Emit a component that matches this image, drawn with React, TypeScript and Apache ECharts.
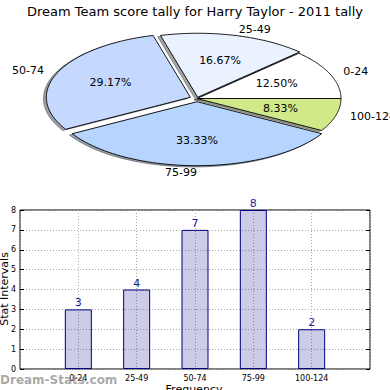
import React, { useEffect, useRef } from "react";
import * as echarts from "echarts";

const categories = ["0-24", "25-49", "50-74", "75-99", "100-124"];
const frequencies = [3, 4, 7, 8, 2];
const sliceColors = ["#ffffff", "#eaf2ff", "#c5d9ff", "#b5d5ff", "#d0ea8a"];
const explode = [0, 0.02, 0.05, 0.05, 0];
const yTickMax = 8;

const FONT = "DejaVu Sans";
const PIE = { cx: 197, cy: 98.5, rx: 144, ry: 64 };

const total = frequencies.reduce((a, b) => a + b, 0);
const cumulative: number[] = [];
frequencies.reduce((acc, v, i) => {
  cumulative[i] = acc;
  return acc + v;
}, 0);

function hexToRgb(h: string) {
  const n = parseInt(h.slice(1), 16);
  return [(n >> 16) & 255, (n >> 8) & 255, n & 255];
}

function sliceGeom(i: number, v: number) {
  const a0 = (cumulative[i] / total) * 360;
  const a1 = a0 + (v / total) * 360;
  const mid = ((a0 + a1) / 2) * Math.PI / 180;
  const ox = PIE.cx + explode[i] * PIE.rx * Math.cos(mid);
  const oy = PIE.cy - explode[i] * PIE.ry * Math.sin(mid);
  const pts: number[][] = [[ox, oy]];
  const n = 60;
  for (let k = 0; k <= n; k++) {
    const t = ((a0 + ((a1 - a0) * k) / n) * Math.PI) / 180;
    pts.push([ox + PIE.rx * Math.cos(t), oy - PIE.ry * Math.sin(t)]);
  }
  return { pts, ox, oy, mid };
}

export default function App() {
  const ref = useRef<HTMLDivElement>(null);
  useEffect(() => {
    if (!ref.current) return;
    const chart = echarts.init(ref.current, undefined, { renderer: "svg" });
    const pieData = frequencies.map((v, i) => [i, v]);
    const option: any = {
      animation: false,
      backgroundColor: "#ffffff",
      title: {
        text: "Dream Team score tally for Harry Taylor - 2011 tally",
        left: "center",
        top: 0,
        textStyle: { fontFamily: FONT, fontSize: 13, fontWeight: "normal", color: "#000" },
      },
      grid: {
        left: 20,
        right: 20,
        top: 210,
        bottom: 21,
        containLabel: false,
        outerBoundsMode: "none",
        show: true,
        borderColor: "#000",
        borderWidth: 1,
        backgroundColor: "transparent",
      },
      xAxis: [
        {
          type: "value",
          min: 0,
          max: categories.length + 1,
          interval: 1,
          axisLine: { show: false },
          axisTick: { show: false },
          axisLabel: {
            fontFamily: FONT,
            fontSize: 8,
            color: "#000",
            margin: 5,
            formatter: (v: number) => categories[v - 1] ?? "",
          },
          splitLine: { show: true, lineStyle: { type: [1, 2], color: "#a8a8a8", width: 1 } },
        },
      ],
      yAxis: [
        {
          type: "value",
          min: 0,
          max: yTickMax,
          interval: 1,
          axisLine: { show: false },
          axisTick: { show: true, inside: true, length: 4, lineStyle: { color: "#000" } },
          axisLabel: { fontFamily: FONT, fontSize: 8, color: "#000", margin: 4 },
          splitLine: { show: true, lineStyle: { type: [1, 2], color: "#a8a8a8", width: 1 } },
        },
        {
          type: "value",
          min: 0,
          max: yTickMax,
          interval: 1,
          position: "right",
          axisLine: { show: false },
          axisTick: { show: true, inside: true, length: 4, lineStyle: { color: "#000" } },
          axisLabel: { show: false },
          splitLine: { show: false },
        },
      ],
      graphic: [
        {
          type: "text",
          x: 4,
          y: 289,
          rotation: Math.PI / 2,
          style: {
            text: "Stat Intervals",
            fontFamily: FONT,
            fontSize: 11,
            fill: "#000",
            align: "center",
            verticalAlign: "middle",
          },
        },
        {
          type: "text",
          x: 194,
          y: 384,
          style: {
            text: "Frequency",
            fontFamily: FONT,
            fontSize: 11,
            fill: "#000",
            align: "center",
            verticalAlign: "top",
          },
        },
        {
          type: "text",
          left: 0,
          top: 374,
          z: 100,
          style: {
            text: "Dream-Stats.com",
            fontFamily: FONT,
            fontSize: 12,
            fontWeight: "bold",
            fill: "rgba(130,130,130,0.7)",
          },
        },
      ],
      series: [
        {
          type: "custom",
          coordinateSystem: "none",
          silent: true,
          z: 1,
          data: pieData,
          renderItem: (params: any, api: any) => {
            const i = params.dataIndex;
            const v = api.value(1);
            const { pts } = sliceGeom(i, v);
            const [r, g, b] = hexToRgb(sliceColors[i]);
            const sh = pts.map((p) => [p[0] - 0.02 * PIE.rx, p[1] + 0.02 * PIE.ry]);
            const c = `rgba(${Math.round(r * 0.3)},${Math.round(g * 0.3)},${Math.round(b * 0.3)},0.5)`;
            return {
              type: "polygon",
              shape: { points: sh },
              style: { fill: c, stroke: c, lineWidth: 1 },
            };
          },
        },
        {
          type: "custom",
          coordinateSystem: "none",
          silent: true,
          z: 2,
          data: pieData,
          renderItem: (params: any, api: any) => {
            const i = params.dataIndex;
            const v = api.value(1);
            const { pts, ox, oy, mid } = sliceGeom(i, v);
            const pct = ((v / total) * 100).toFixed(2) + "%";
            const cosm = Math.cos(mid);
            return {
              type: "group",
              children: [
                {
                  type: "polygon",
                  shape: { points: pts },
                  style: { fill: sliceColors[i], stroke: "#000", lineWidth: 0.9 },
                },
                {
                  type: "text",
                  style: {
                    text: pct,
                    x: ox + 0.6 * PIE.rx * cosm,
                    y: oy - 0.6 * PIE.ry * Math.sin(mid),
                    align: "center",
                    verticalAlign: "middle",
                    fontFamily: FONT,
                    fontSize: 11,
                    fill: "#000",
                  },
                },
                {
                  type: "text",
                  style: {
                    text: categories[i],
                    x: ox + 1.1 * PIE.rx * cosm,
                    y: oy - 1.1 * PIE.ry * Math.sin(mid),
                    align: cosm > 0 ? "left" : "right",
                    verticalAlign: "middle",
                    fontFamily: FONT,
                    fontSize: 11,
                    fill: "#000",
                  },
                },
              ],
            };
          },
        },
        {
          type: "bar",
          xAxisIndex: 0,
          yAxisIndex: 0,
          barWidth: 27,
          data: frequencies.map((v, i) => [i + 1, v]),
          itemStyle: { color: "rgba(0,0,128,0.2)", borderColor: "#000080", borderWidth: 1 },
          label: {
            show: true,
            position: "top",
            distance: 1,
            fontFamily: FONT,
            fontSize: 11,
            color: "#1c1c96",
            formatter: (p: any) => String(p.value[1]),
          },
        },
      ],
    };
    chart.setOption(option);
    return () => chart.dispose();
  }, []);
  return <div ref={ref} style={{ width: 390, height: 390, position: "absolute", left: 0, top: 0 }} />;
}
